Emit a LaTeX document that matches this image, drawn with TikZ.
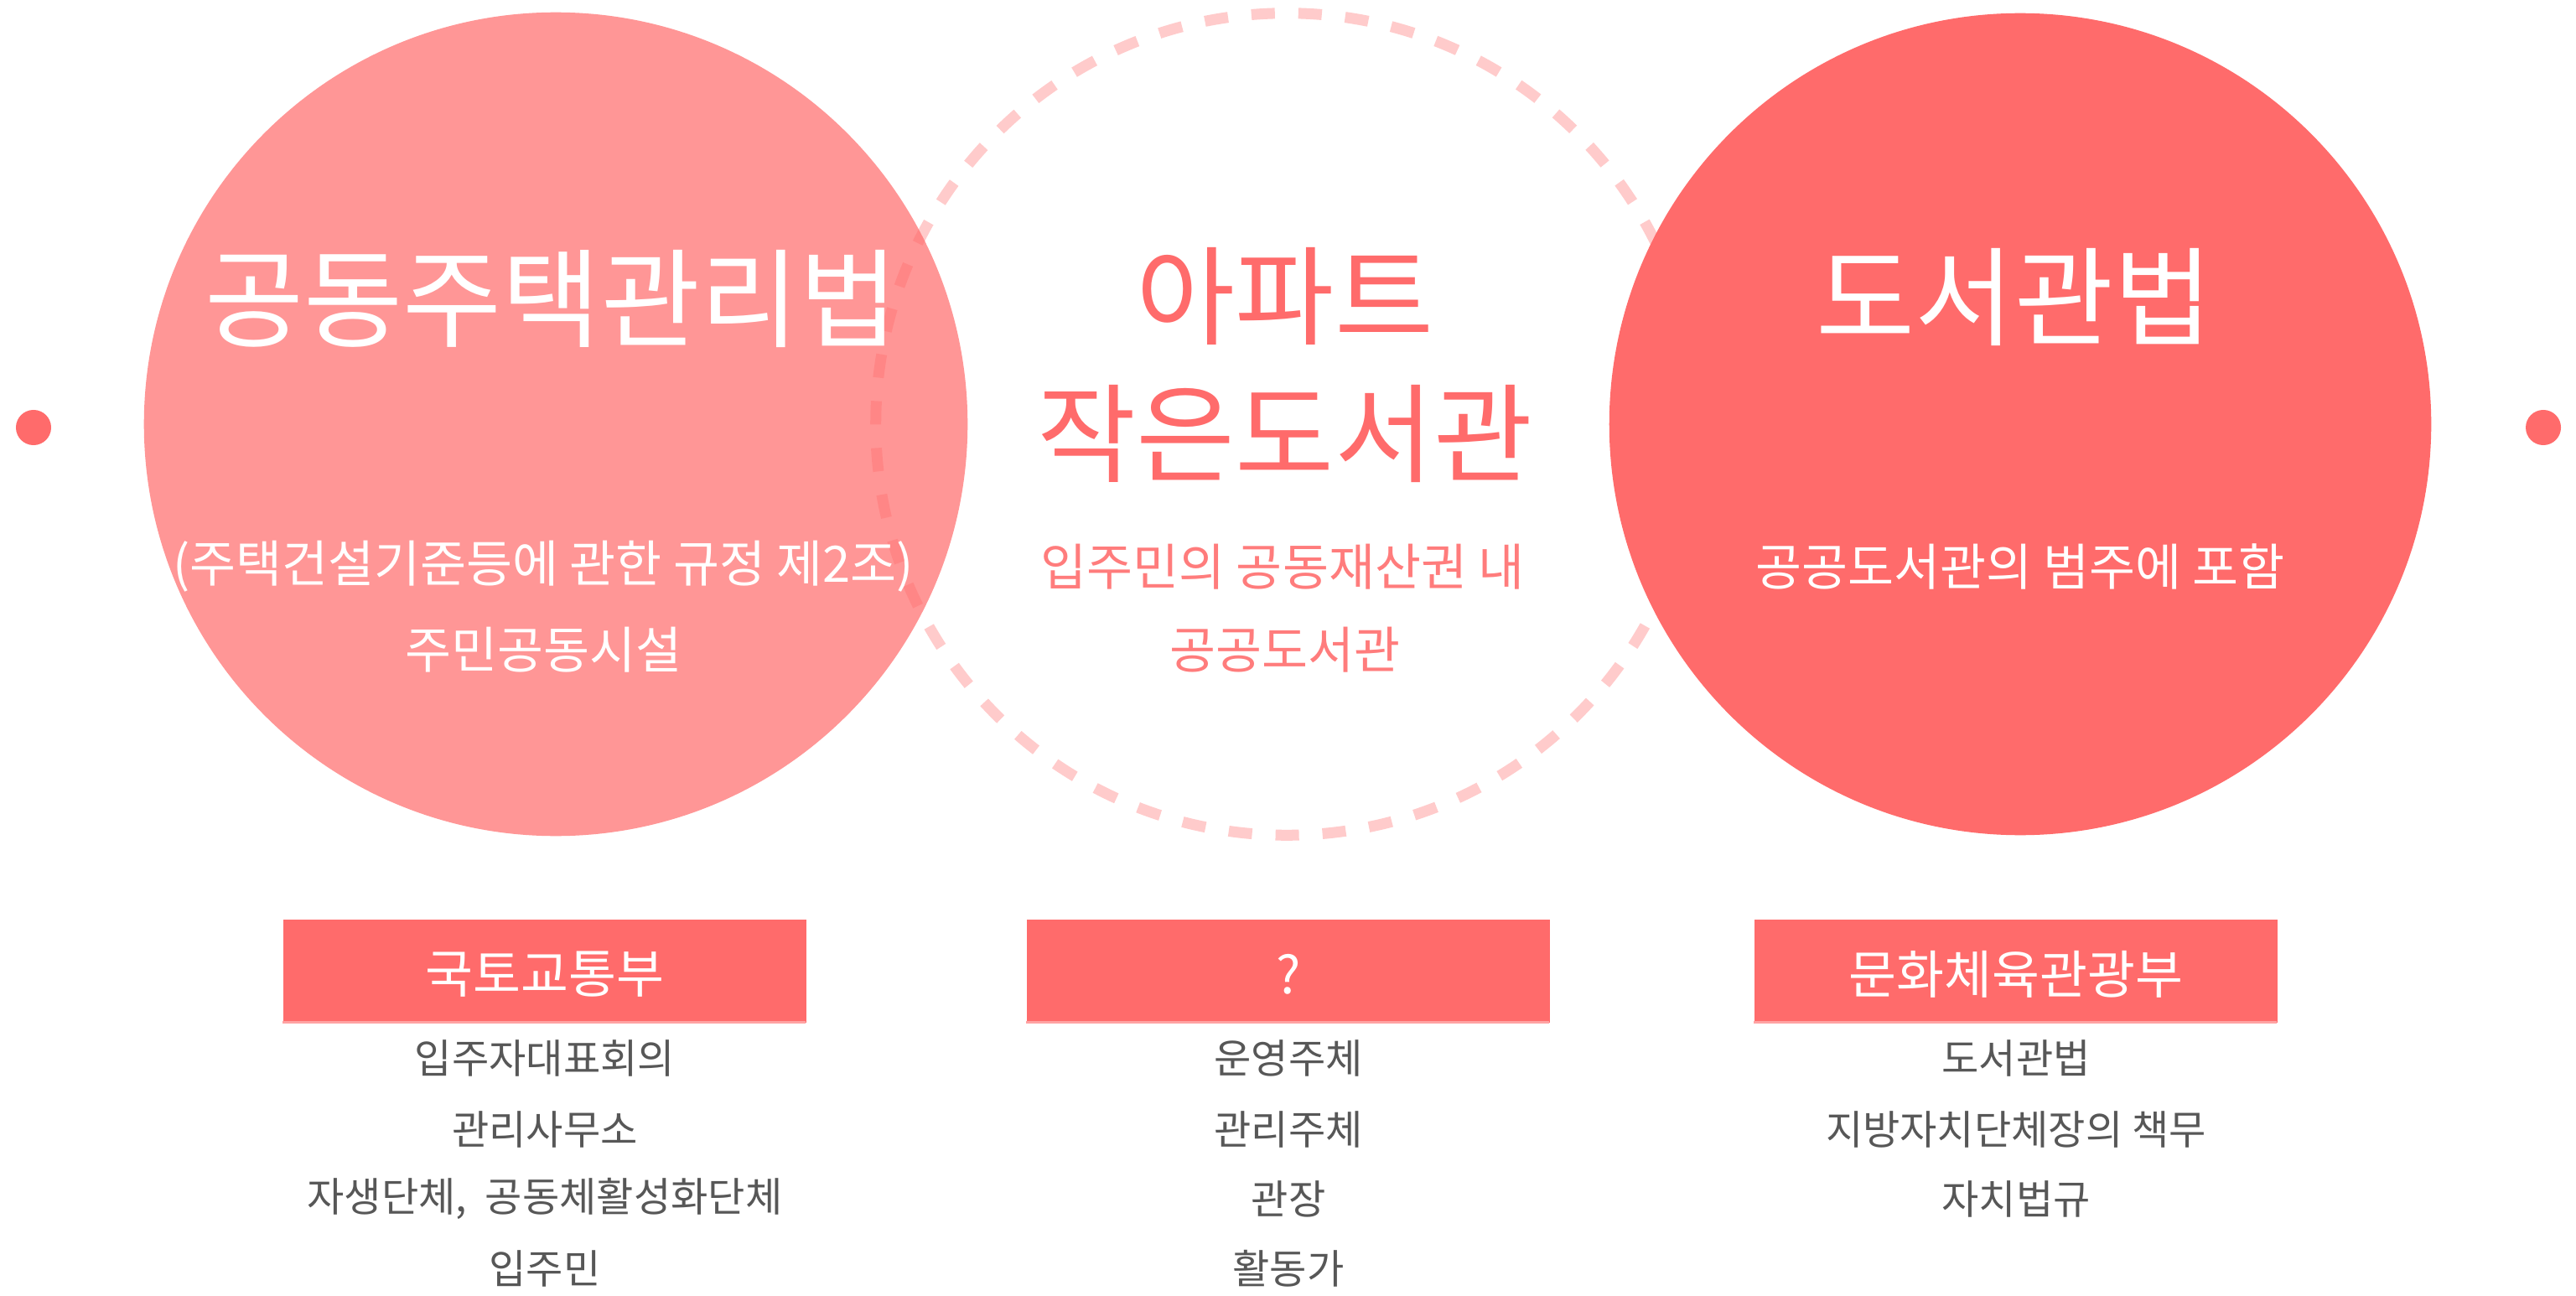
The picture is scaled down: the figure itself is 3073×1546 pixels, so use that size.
\documentclass[tikz,border=0pt]{standalone}
\usepackage{fontspec}
\newfontfamily\kr{Noto Sans CJK KR}
\definecolor{lawlight}{HTML}{FF9696}
\definecolor{lawred}{HTML}{FF6B6B}
\definecolor{midsub}{HTML}{FF7C7C}
\definecolor{stripe}{HTML}{FFA3A3}
\definecolor{listgray}{HTML}{575757}
\tikzset{
  bigcirc/.style={circle, inner sep=0pt, outer sep=0pt, minimum size=9.82cm},
  ringcirc/.style={circle, inner sep=0pt, minimum size=9.8cm, draw=lawred, draw opacity=0.35, line width=0.13cm, dash pattern=on 0.28cm off 0.28cm},
  dotmark/.style={circle, fill=lawred, inner sep=0pt, minimum size=0.42cm},
  circtitle/.style={font=\kr\fontsize{36.5}{44}\selectfont, inner sep=0pt},
  circsub/.style={font=\kr\fontsize{17}{20}\selectfont, inner sep=0pt},
  minbox/.style={fill=lawred, minimum width=6.24cm, minimum height=1.23cm, inner sep=0pt},
  boxlabel/.style={font=\kr\fontsize{17.6}{21}\selectfont, text=white, inner sep=0pt},
  listitem/.style={font=\kr\fontsize{13.7}{16}\selectfont, text=listgray, inner sep=0pt}
}
\begin{document}
\begin{tikzpicture}[x=0.01cm, y=-0.01cm]
\fill[white] (0,0) rectangle (3073,1546);
\useasboundingbox (0,0) rectangle (3073,1546);

% circles
\node[bigcirc, fill=lawlight] (lc) at (663,506) {};
\node[ringcirc] (mc) at (1535,506) {};
\node[bigcirc, fill=lawred, minimum size=9.8cm] (rc) at (2410,506) {};

% side dots
\node[dotmark] (ldot) at (40,510) {};
\node[dotmark] (rdot) at (3034,510) {};

% left circle text
\node[circtitle, text=white] (lt) at (658,356) {공동주택관리법};
\node[circsub, text=white] (ls1) at (648,676) {(주택건설기준등에 관한 규정 제2조)};
\node[circsub, text=white] (ls2) at (648,775) {주민공동시설};

% middle circle text
\node[circtitle, text=lawred] (mt1) at (1533,353) {아파트};
\node[circtitle, text=lawred] (mt2) at (1533,517) {작은도서관};
\node[circsub, text=midsub] (ms1) at (1530,676) {입주민의 공동재산권 내};
\node[circsub, text=midsub] (ms2) at (1533,775) {공공도서관};

% right circle text
\node[circtitle, text=white] (rt) at (2403,354) {도서관법};
\node[circsub, text=white] (rs1) at (2410,676) {공공도서관의 범주에 포함};

% ministry boxes
\node[minbox] (b1) at (650,1158.5) {};
\node[minbox] (b2) at (1537,1158.5) {};
\node[minbox] (b3) at (2405,1158.5) {};
\draw[stripe, line width=0.03cm] (b1.south west) ++(0,-1.5) -- ++(624,0);
\draw[stripe, line width=0.03cm] (b2.south west) ++(0,-1.5) -- ++(624,0);
\draw[stripe, line width=0.03cm] (b3.south west) ++(0,-1.5) -- ++(624,0);
\node[boxlabel] (b1l) at (650,1162) {국토교통부};
\node[boxlabel] (b2l) at (1537,1162) {?};
\node[boxlabel] (b3l) at (2405,1162) {문화체육관광부};

% lists
\node[listitem] (l11) at (650,1262) {입주자대표회의};
\node[listitem] (l12) at (650,1347) {관리사무소};
\node[listitem] (l13) at (650,1430) {자생단체,~~공동체활성화단체};
\node[listitem] (l14) at (650,1513) {입주민};

\node[listitem] (l21) at (1537,1262) {운영주체};
\node[listitem] (l22) at (1537,1347) {관리주체};
\node[listitem] (l23) at (1537,1430) {관장};
\node[listitem] (l24) at (1537,1513) {활동가};

\node[listitem] (l31) at (2405,1262) {도서관법};
\node[listitem] (l32) at (2405,1347) {지방자치단체장의 책무};
\node[listitem] (l33) at (2405,1430) {자치법규};
\end{tikzpicture}
\end{document}
